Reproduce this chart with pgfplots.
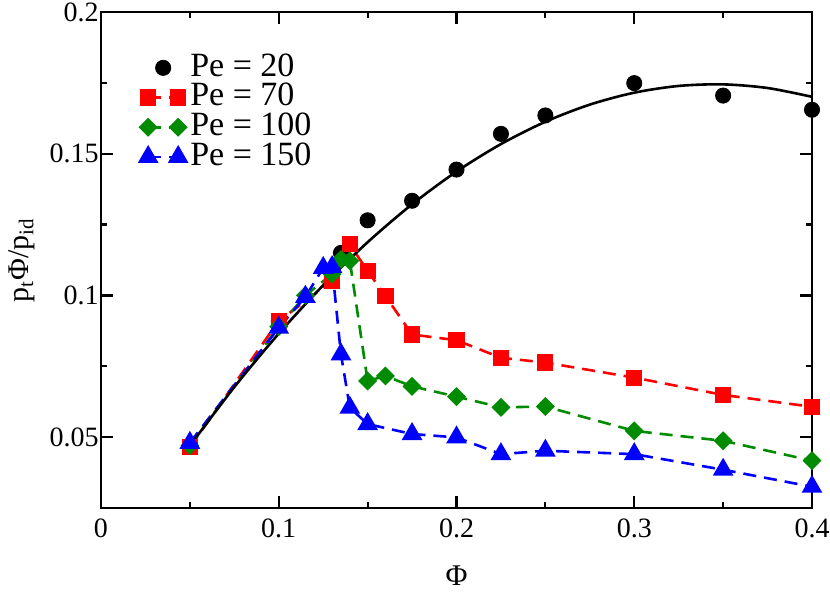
\documentclass[border=0pt]{standalone}
\usepackage{fontspec}
\setmainfont{Liberation Serif}
\usepackage{pgfplots}
\pgfplotsset{compat=1.18}
\definecolor{grgreen}{RGB}{0,139,0}
\pgfplotsset{
  twoends legend/.style={legend image code/.code={\draw[##1] plot coordinates {(0pt,0pt) (15pt,0pt)};}},
  onemark legend/.style={legend image code/.code={\draw[##1] plot coordinates {(7.5pt,0pt)};}},
}
\begin{document}
\begin{tikzpicture}
\begin{axis}[
  scale only axis, width=355.5pt, height=248pt,
  xmin=0, xmax=0.4, ymin=0.025, ymax=0.2,
  xtick={0,0.1,0.2,0.3,0.4}, ytick={0.05,0.1,0.15,0.2},
  minor xtick={0.05,0.15,0.25,0.35}, minor ytick={0.025,0.075,0.125,0.175},
  tick align=inside, major tick length=6pt, minor tick length=3pt,
  every tick/.style={line width=1.1pt, black},
  axis line style={line width=1.1pt},
  /pgf/number format/assume math mode=true,
  /pgf/number format/fixed, /pgf/number format/precision=2,
  ticklabel style={font=\fontsize{14}{14}\selectfont},
  yticklabel style={inner sep=1pt},
  xticklabel style={yshift=-2pt},
  xlabel={Φ}, ylabel={p\textsubscript{t}Φ/p\textsubscript{id}},
  xlabel style={at={(rel axis cs:0.5,-0.1371)}, anchor=center, font=\fontsize{15}{15}\selectfont},
  ylabel style={at={(rel axis cs:-0.1111,0.5)}, anchor=center, font=\fontsize{15}{15}\selectfont},
  legend style={draw=none, fill=none, at={(rel axis cs:0.0549,0.9173)}, anchor=north west,
    inner sep=0pt, outer sep=0pt, font=\fontsize{17}{17}\selectfont,
    row sep=0pt, column sep=1pt,
    nodes={inner sep=1pt, text height=10.5pt, text depth=2.35pt}},
  legend cell align=left,
  twoends legend,
  dashed line/.style={line width=1.3pt, dash pattern=on 6.5pt off 4pt, mark options={solid}},
]
\addplot[only marks, mark=*, mark size=3.8pt, black, onemark legend]
  coordinates {(0.05,0.0470) (0.10,0.0910) (0.135,0.1150) (0.15,0.1265) (0.175,0.1334)
  (0.20,0.1444) (0.225,0.1570) (0.25,0.1635) (0.30,0.1749) (0.35,0.1705) (0.40,0.1655)};
\addlegendentry{Pe = 20}
\addplot[dashed line, red, mark=square*, mark size=3.4pt]
  coordinates {(0.05,0.0464) (0.10,0.0910) (0.13,0.1050) (0.14,0.1180) (0.15,0.1086)
  (0.16,0.0998) (0.175,0.0862) (0.20,0.0842) (0.225,0.0780) (0.25,0.0763) (0.30,0.0710)
  (0.35,0.0649) (0.40,0.0607)};
\addlegendentry{Pe = 70}
\addplot[dashed line, grgreen, mark=square*, mark size=2.7pt, mark options={solid, rotate=45}]
  coordinates {(0.05,0.0470) (0.10,0.0890) (0.115,0.1000) (0.13,0.1075) (0.135,0.1127)
  (0.14,0.1122) (0.15,0.0698) (0.16,0.0716) (0.175,0.0679) (0.20,0.0643) (0.225,0.0605)
  (0.25,0.0608) (0.30,0.0522) (0.35,0.0487) (0.40,0.0417)};
\addlegendentry{Pe = 100}
\addplot[dashed line, blue, mark=triangle*, mark size=4.7pt]
  coordinates {(0.05,0.0480) (0.10,0.0886) (0.115,0.0995) (0.125,0.1097) (0.13,0.1100)
  (0.135,0.0792) (0.14,0.0604) (0.15,0.0546) (0.175,0.0511) (0.20,0.0499) (0.225,0.0440)
  (0.25,0.0452) (0.30,0.0440) (0.35,0.0385) (0.40,0.0325)};
\addlegendentry{Pe = 150}
\addplot[black, line width=1.3pt, smooth, no marks, forget plot]
  coordinates {(0.05,0.04696) (0.075,0.06767) (0.10,0.08653) (0.125,0.10357) (0.15,0.11877)
  (0.175,0.13215) (0.20,0.14369) (0.225,0.15340) (0.25,0.16127) (0.275,0.16732)
  (0.30,0.17153) (0.325,0.17391) (0.35,0.17446) (0.375,0.17318) (0.40,0.17007)};
\end{axis}
\pgfresetboundingbox
\path ([shift={(-50.5pt,-42pt)}]current axis.south west) rectangle ([shift={(9pt,6pt)}]current axis.north east);
\end{tikzpicture}
\end{document}
